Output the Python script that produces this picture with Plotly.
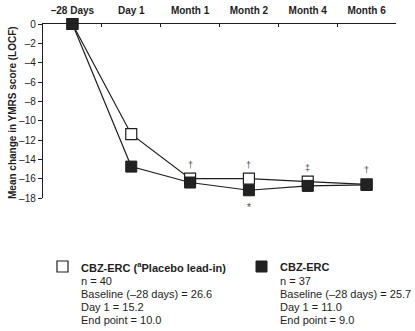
import plotly.graph_objects as go

categories = ["\u201328 Days", "Day 1", "Month 1", "Month 2", "Month 4", "Month 6"]
placebo_leadin = [0, -11.4, -16.0, -16.0, -16.3, -16.6]
cbz_erc = [0, -14.75, -16.4, -17.2, -16.75, -16.65]
ytick_vals = [0, -2, -4, -6, -8, -10, -12, -14, -16, -18]
ytick_text = ["0"] + ["\u2013" + str(-v) for v in ytick_vals[1:]]

sig_above = {"Month 1": "\u2020", "Month 2": "\u2020", "Month 4": "\u2021", "Month 6": "\u2020"}
sig_below = {"Month 2": "*"}

legend_open = ["<b>CBZ-ERC (<sup>a</sup>Placebo lead-in)</b>", "n = 40",
               "Baseline (\u201328 days) = 26.6", "Day 1 = 15.2", "End point = 10.0"]
legend_fill = ["<b>CBZ-ERC</b>", "n = 37",
               "Baseline (\u201328 days) = 25.7", "Day 1 = 11.0", "End point = 9.0"]

FONT = "Liberation Sans, Arial, sans-serif"
INK = "#1e1e1e"

fig = go.Figure()
fig.add_trace(go.Scatter(
    x=categories, y=placebo_leadin, mode="lines+markers", cliponaxis=False,
    line=dict(color=INK, width=1.2),
    marker=dict(symbol="square", size=11, color="white", line=dict(color=INK, width=1.2)),
    showlegend=False, hoverinfo="skip"))
fig.add_trace(go.Scatter(
    x=categories, y=cbz_erc, mode="lines+markers", cliponaxis=False,
    line=dict(color=INK, width=1.2),
    marker=dict(symbol="square", size=11, color="#222222", line=dict(color=INK, width=1)),
    showlegend=False, hoverinfo="skip"))

annotations = []
for cat, sym in sig_above.items():
    i = categories.index(cat)
    annotations.append(dict(x=cat, y=placebo_leadin[i], xref="x", yref="y", text=sym,
                            showarrow=False, yshift=14, font=dict(family=FONT, size=9, color="#4a4a4a")))
for cat, sym in sig_below.items():
    i = categories.index(cat)
    annotations.append(dict(x=cat, y=cbz_erc[i], xref="x", yref="y", text=sym,
                            showarrow=False, yshift=-17, font=dict(family=FONT, size=10, color="#4a4a4a")))

# pixel -> paper conversion
L, R, T, B = 43, 396, 24, 198
def px(x):
    return (x - L) / (R - L)
def py(y):
    return (B - y) / (B - T)

annotations.append(dict(x=px(12), y=py(113), xref="paper", yref="paper",
                        text="<b>Mean change in YMRS score (LOCF)</b>", textangle=-90,
                        showarrow=False, xanchor="center", yanchor="middle",
                        font=dict(family=FONT, size=10, color=INK)))

line_y = [267, 281, 294, 307, 320]
for lines, x0 in ((legend_open, 79), (legend_fill, 278)):
    for txt, yy in zip(lines, line_y):
        annotations.append(dict(x=px(x0), y=py(yy), xref="paper", yref="paper", text=txt,
                                showarrow=False, xanchor="left", yanchor="middle",
                                font=dict(family=FONT, size=11, color=INK)))

shapes = [
    dict(type="rect", xref="paper", yref="paper", x0=px(57), x1=px(68), y0=py(272), y1=py(261),
         line=dict(color=INK, width=1.2), fillcolor="white"),
    dict(type="rect", xref="paper", yref="paper", x0=px(256), x1=px(267), y0=py(272), y1=py(261),
         line=dict(color=INK, width=1), fillcolor="#222222"),
]

fig.update_layout(
    width=415, height=331,
    margin=dict(l=L, r=415 - R, t=T, b=331 - B),
    paper_bgcolor="white", plot_bgcolor="white",
    font=dict(family=FONT, size=10, color=INK),
    annotations=annotations, shapes=shapes,
    xaxis=dict(type="category", side="top", range=[-0.5, 5.5], tickson="boundaries",
               ticks="inside", ticklen=3, tickcolor=INK, showline=True, linecolor=INK, linewidth=1.2,
               showgrid=False, zeroline=False, automargin=False, ticklabelstandoff=5,
               tickfont=dict(family=FONT, size=10, color=INK, weight="bold")),
    yaxis=dict(range=[-18, 0], tickvals=ytick_vals, ticktext=ytick_text, ticks="outside",
               ticklen=4, tickcolor=INK, showline=True, linecolor=INK, linewidth=1.2,
               showgrid=False, zeroline=False, automargin=False,
               tickfont=dict(family=FONT, size=10, color=INK)),
)

fig.write_html("out.html", config={"displayModeBar": False, "staticPlot": True},
               post_script="document.body.style.margin='0';document.body.style.overflow='hidden';")
